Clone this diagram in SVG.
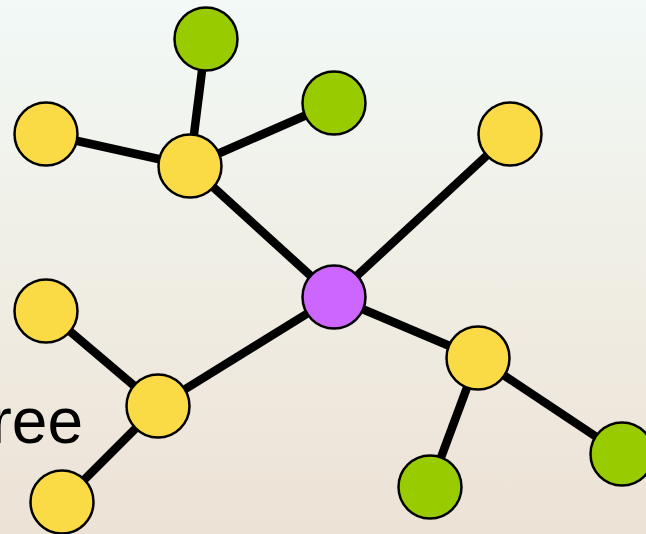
<svg xmlns="http://www.w3.org/2000/svg" width="646" height="534" viewBox="0 0 646 534">
<defs>
<linearGradient id="bg" x1="0" y1="0" x2="0" y2="1">
<stop offset="0" stop-color="#f2f9f7"/>
<stop offset="0.45" stop-color="#f0efe6"/>
<stop offset="1" stop-color="#ede2d6"/>
</linearGradient>
<style>
.e{stroke:#000;stroke-width:8.5;stroke-linecap:butt}
.n{stroke:#000;stroke-width:2.5}
.y{fill:#fbdb45}
.g{fill:#99cc00}
.p{fill:#cc66ff}
.t{font-family:"Liberation Sans",Arial,sans-serif;font-size:64px;fill:#000}
</style>
</defs>
<rect width="646" height="534" fill="url(#bg)"/>
<text class="t" x="83" y="443" text-anchor="end">ree</text>
<g id="connectors">
<line class="e" x1="206" y1="39" x2="190" y2="166"/>
<line class="e" x1="334" y1="103" x2="190" y2="166"/>
<line class="e" x1="46" y1="134" x2="190" y2="166"/>
<line class="e" x1="190" y1="166" x2="334" y2="297"/>
<line class="e" x1="334" y1="297" x2="510" y2="134"/>
<line class="e" x1="334" y1="297" x2="158" y2="406"/>
<line class="e" x1="334" y1="297" x2="478" y2="358"/>
<line class="e" x1="158" y1="406" x2="46" y2="311"/>
<line class="e" x1="158" y1="406" x2="62" y2="502"/>
<line class="e" x1="478" y1="358" x2="430" y2="487"/>
<line class="e" x1="478" y1="358" x2="622" y2="454"/>
</g>
<g id="n1"><circle class="n g" cx="206" cy="39" r="31.5"/></g>
<g id="n2"><circle class="n g" cx="334" cy="103" r="31.5"/></g>
<g id="n3"><circle class="n y" cx="46" cy="134" r="31.5"/></g>
<g id="n4"><circle class="n y" cx="190" cy="166" r="31.5"/></g>
<g id="n5"><circle class="n y" cx="510" cy="134" r="31.5"/></g>
<g id="n6"><circle class="n p" cx="334" cy="297" r="31.5"/></g>
<g id="n7"><circle class="n y" cx="46" cy="311" r="31.5"/></g>
<g id="n8"><circle class="n y" cx="158" cy="406" r="31.5"/></g>
<g id="n9"><circle class="n y" cx="62" cy="502" r="31.5"/></g>
<g id="n10"><circle class="n y" cx="478" cy="358" r="31.5"/></g>
<g id="n11"><circle class="n g" cx="430" cy="487" r="31.5"/></g>
<g id="n12"><circle class="n g" cx="622" cy="454" r="31.5"/></g>
</svg>
